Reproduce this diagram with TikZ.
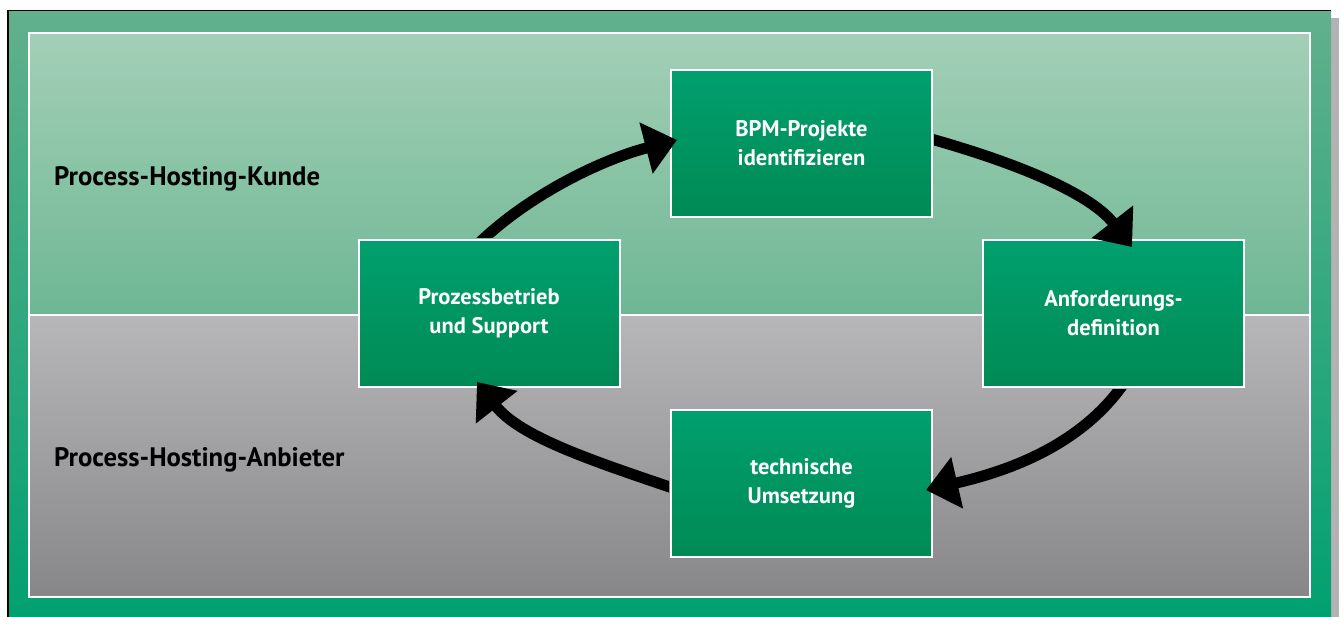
\documentclass[tikz,border=0pt]{standalone}
\usepackage{fontspec}
\setmainfont{PT Sans}
\usetikzlibrary{arrows.meta}
\definecolor{frameTop}{RGB}{98,176,141}
\definecolor{frameBot}{RGB}{0,160,112}
\definecolor{upTop}{RGB}{163,207,183}
\definecolor{upBot}{RGB}{110,183,148}
\definecolor{lowTop}{RGB}{183,183,185}
\definecolor{lowBot}{RGB}{135,135,137}
\definecolor{boxTop}{RGB}{0,160,110}
\definecolor{boxBot}{RGB}{0,138,85}
\definecolor{shadowGrey}{RGB}{179,179,179}
\begin{document}
\begin{tikzpicture}[x=1pt,y=-1pt,
  stepbox/.style={draw=white, line width=2pt, minimum width=261pt, minimum height=147pt,
    top color=boxTop, bottom color=boxBot, text=white,
    font=\bfseries\fontsize{22.5}{29}\selectfont, align=center, inner sep=0pt},
  lbl/.style={anchor=base west, font=\bfseries\fontsize{26.7}{30}\selectfont, text=black, inner sep=0pt},
  cyc/.style={line width=11pt, -{Triangle[length=32pt,width=51pt]}}]
\useasboundingbox (0,0) rectangle (1341,617);
\fill[white] (0,0) rectangle (1341,617);
\fill[shadowGrey] (17,18) rectangle (1339,625);
\fill[black] (7,10) rectangle (1331,625);
\shade[top color=frameTop,bottom color=frameBot] (9,12) rectangle (1331,625);
\shade[top color=upTop,bottom color=upBot] (28.5,33.5) rectangle (1309.5,315);
\shade[top color=lowTop,bottom color=lowBot] (28.5,315) rectangle (1309.5,596.5);
\draw[white, line width=2pt] (28.5,33.5) rectangle (1309.5,596.5);
\draw[white, line width=2pt] (28.5,315) -- (1309.5,315);

\node[lbl] (kunde) at (54,186) {Process-Hosting-Kunde};
\node[lbl] (anbieter) at (54,466) {Process-Hosting-Anbieter};

\node[stepbox] (b) at (801.5,143.5) {BPM-Projekte\\identifizieren};
\node[stepbox] (p) at (489,313.5) {Prozessbetrieb\\und Support};
\node[stepbox] (a) at (1113.5,313.5) {Anforderungs-\\definition};
\node[stepbox] (t) at (801.5,483) {technische\\Umsetzung};

% arrow 1: p -> b
\begin{scope}
\clip (-10,-10) -- (1351,-10) -- (1351,627) -- (-10,627) -- cycle
  ([shift={(-1pt,-1pt)}]p.south west) -- ([shift={(1pt,-1pt)}]p.south east)
  -- ([shift={(1pt,1pt)}]p.north east) -- ([shift={(-1pt,1pt)}]p.north west) -- cycle;
\draw[cyc] ([xshift=-12pt,yshift=-6pt]p.north) .. controls +(50,-49) and +(-77,20) .. ([xshift=7pt,yshift=3.5pt]b.west);
\end{scope}
% arrow 2: b -> a
\begin{scope}
\clip (-10,-10) -- (1351,-10) -- (1351,627) -- (-10,627) -- cycle
  ([shift={(-1pt,-1pt)}]b.south west) -- ([shift={(1pt,-1pt)}]b.south east)
  -- ([shift={(1pt,1pt)}]b.north east) -- ([shift={(-1pt,1pt)}]b.north west) -- cycle;
\draw[cyc] ([xshift=-9pt,yshift=6.5pt]b.east) .. controls +(87,24) and +(-43,-55) .. ([xshift=18.5pt,yshift=-8pt]a.north);
\end{scope}
% arrow 3: a -> t
\begin{scope}
\clip (-10,-10) -- (1351,-10) -- (1351,627) -- (-10,627) -- cycle
  ([shift={(-1pt,-1pt)}]a.south west) -- ([shift={(1pt,-1pt)}]a.south east)
  -- ([shift={(1pt,1pt)}]a.north east) -- ([shift={(-1pt,1pt)}]a.north west) -- cycle;
\draw[cyc] ([xshift=12pt,yshift=7pt]a.south) .. controls +(-44.5,66) and +(78,-18) .. ([xshift=-7pt,yshift=-7pt]t.east);
\end{scope}
% arrow 4: t -> p
\begin{scope}
\clip (-10,-10) -- (1351,-10) -- (1351,627) -- (-10,627) -- cycle
  ([shift={(-1pt,-1pt)}]t.south west) -- ([shift={(1pt,-1pt)}]t.south east)
  -- ([shift={(1pt,1pt)}]t.north east) -- ([shift={(-1pt,1pt)}]t.north west) -- cycle;
\draw[cyc] ([xshift=8.5pt,yshift=-7pt]t.west) .. controls +(-85.5,-29) and +(43,55) .. ([xshift=-12pt,yshift=6pt]p.south);
\end{scope}
\end{tikzpicture}
\end{document}
